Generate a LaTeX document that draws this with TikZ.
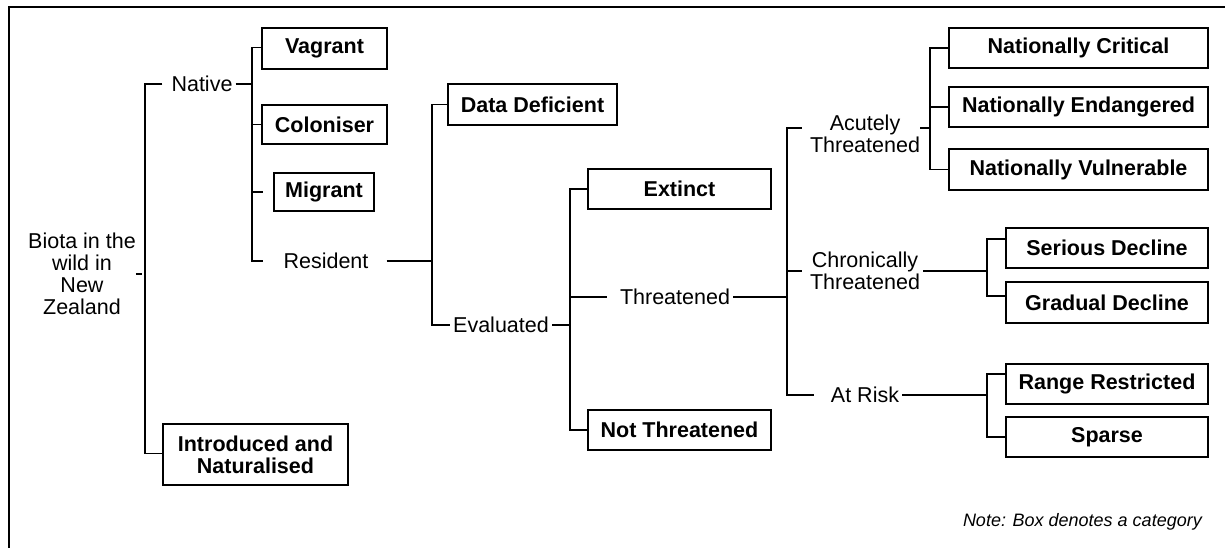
\documentclass[tikz,border=0pt]{standalone}
\usepackage{fontspec}
\setmainfont{Liberation Sans}
\begin{document}
\begin{tikzpicture}[x=1pt,y=-1pt,
  every node/.style={font=\fontsize{21.5}{22}\selectfont},
  cat/.style={draw, line width=1.5pt, inner sep=0pt, minimum height=40pt, font=\fontsize{21.5}{22}\selectfont\bfseries},
  lbl/.style={inner sep=3pt, align=center},
  conn/.style={line width=1.5pt}]
\useasboundingbox (0,0) rectangle (1225,547);
% outer frame (cropped at right and bottom)
\draw[line width=1.5pt] (1240,7) -- (9,7) -- (9,560);

% text labels
\node[lbl] (biota) at (82,274) {Biota in the\\wild in\\New\\Zealand};
\node[lbl] (native) at (202,84) {Native};
\node[lbl] (res) at (326,261) {Resident};
\node[lbl] (eval) at (501,325) {Evaluated};
\node[lbl] (thr) at (675,297) {Threatened};
\node[lbl] (acute) at (865,134) {Acutely\\Threatened};
\node[lbl] (chron) at (865,271) {Chronically\\Threatened};
\node[lbl] (atrisk) at (865,395) {At Risk};
\node[anchor=east, inner sep=0pt, font=\fontsize{18}{20}\selectfont\itshape] (note) at (1202,522) {Note: Box denotes a category};

% category boxes
\node[cat, minimum width=125pt, minimum height=41pt] (vag) at (324.5,48.5) {Vagrant};
\node[cat, minimum width=125pt, minimum height=39pt] (col) at (324.5,124.5) {Coloniser};
\node[cat, minimum width=100pt, minimum height=38pt] (mig) at (324,192) {Migrant};
\node[cat, minimum width=185pt, minimum height=61pt, align=center] (intro) at (255.5,454.5) {Introduced and\\Naturalised};
\node[cat, minimum width=169pt, minimum height=41pt] (dd) at (532.5,104.5) {Data Deficient};
\node[cat, minimum width=183pt] (ext) at (679.5,189) {Extinct};
\node[cat, minimum width=183pt] (nt) at (679.5,430) {Not Threatened};
\node[cat, minimum width=259pt] (nc) at (1078.5,48) {Nationally Critical};
\node[cat, minimum width=259pt] (ne) at (1078.5,107) {Nationally Endangered};
\node[cat, minimum width=259pt, minimum height=41pt] (nv) at (1078.5,169.5) {Nationally Vulnerable};
\node[cat, minimum width=202pt] (sd) at (1107,248) {Serious Decline};
\node[cat, minimum width=202pt, minimum height=41pt] (gd) at (1107,302.5) {Gradual Decline};
\node[cat, minimum width=202pt] (rr) at (1107,384) {Range Restricted};
\node[cat, minimum width=202pt] (sp) at (1107,437) {Sparse};

% bracket spines
\coordinate (b1) at (145,0);
\coordinate (b2) at (252,0);
\coordinate (b3) at (432,0);
\coordinate (b4) at (570,0);
\coordinate (b5) at (787,0);
\coordinate (b6) at (930,0);
\coordinate (b7) at (987,0);

% level 1
\draw[conn] ([xshift=-3pt]biota.east) -- ([xshift=-3pt]biota.east -| b1);
\draw[conn] ([xshift=-6pt]native.west) -| ([yshift=1pt]intro.west -| b1) -- ([yshift=1pt]intro.west);
% native
\draw[conn] (native.east) -- (native.east -| b2);
\draw[conn] ([yshift=1pt]vag.west) -| (res.west -| b2) -- ++(11,0);
\draw[conn] (col.west -| b2) -- (col.west);
\draw[conn] (mig.west -| b2) -- ++(11,0);
% resident
\draw[conn] ([xshift=15pt]res.east) -- (res.east -| b3);
\draw[conn] (dd.west) -| (eval.west -| b3) -- (eval.west);
% evaluated
\draw[conn] (eval.east) -- (eval.east -| b4);
\draw[conn] (ext.west) -| (nt.west -| b4) -- (nt.west);
\draw[conn] (thr.west -| b4) -- ([xshift=-10pt]thr.west);
% threatened
\draw[conn] (thr.east) -- (thr.east -| b5);
\draw[conn] ([xshift=-5pt,yshift=6pt]acute.west) -| (atrisk.west -| b5) -- ([xshift=-14pt]atrisk.west);
\draw[conn] (chron.west -| b5) -- ([xshift=-5pt]chron.west);
% acutely
\draw[conn] ([xshift=-3pt,yshift=6pt]acute.east) -- ([yshift=6pt]acute.east -| b6);
\draw[conn] (nc.west) -| (nv.west -| b6) -- (nv.west);
\draw[conn] (ne.west -| b6) -- (ne.west);
% chronically
\draw[conn] (chron.east) -- (chron.east -| b7);
\draw[conn] ([yshift=9pt]sd.west) -| ([yshift=6.5pt]gd.west -| b7) -- ([yshift=6.5pt]gd.west);
% at risk
\draw[conn] (atrisk.east) -- (atrisk.east -| b7);
\draw[conn] ([yshift=10pt]rr.west) -| (sp.west -| b7) -- (sp.west);
\end{tikzpicture}
\end{document}
